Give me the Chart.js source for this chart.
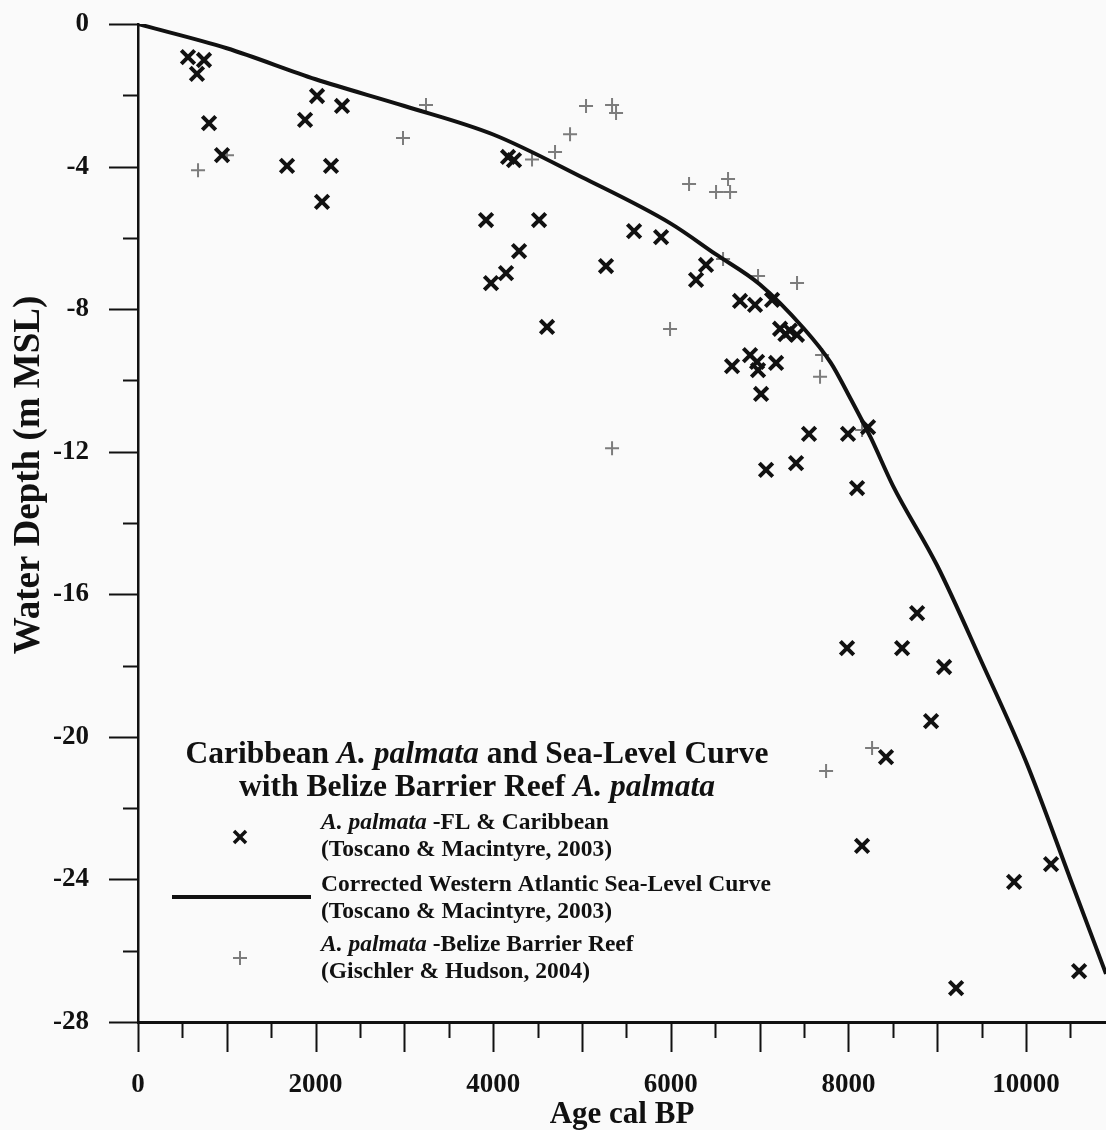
<!DOCTYPE html>
<html>
<head>
<meta charset="utf-8">
<title>Caribbean A. palmata and Sea-Level Curve</title>
<script src="https://cdn.jsdelivr.net/npm/chart.js@4.4.1/dist/chart.umd.min.js"></script>
<style>
  html, body { margin: 0; padding: 0; background: #fafafa; overflow: hidden; }
  #wrap { width: 1106px; height: 1130px; position: relative; }
  #myChart { display: block; }
</style>
</head>
<body>
<div id="wrap"><canvas id="myChart"></canvas></div>
<script>
// A. palmata - FL & Caribbean (Toscano & Macintyre, 2003)
const caribbeanAge = [563, 743, 664, 800, 946, 1678, 2016, 2297, 1881, 2173, 2072,
    4167, 4234, 3919, 4516, 4291, 4144, 3975, 4606,
    5586, 5890, 5270, 6396, 6284, 6779, 6948, 7140,
    7230, 7290, 7340, 7420,
    6689, 6892, 6971, 6982, 7185, 7016,
    7556, 7995, 8221, 7410, 7072, 8097,
    8773, 7984, 8604, 9077, 8930, 8423,
    8153, 9865, 10281, 9212, 10597];
const caribbeanDepth = [-0.93, -1.01, -1.40, -2.78, -3.68, -3.98, -2.02, -2.30, -2.69, -3.98, -4.99,
    -3.73, -3.82, -5.50, -5.50, -6.37, -6.99, -7.27, -8.50,
    -5.81, -5.98, -6.79, -6.76, -7.18, -7.77, -7.88, -7.74,
    -8.55, -8.70, -8.60, -8.72,
    -9.60, -9.29, -9.48, -9.71, -9.51, -10.38,
    -11.50, -11.50, -11.31, -12.32, -12.51, -13.02,
    -16.53, -17.51, -17.51, -18.04, -19.56, -20.57,
    -23.06, -24.07, -23.57, -27.05, -26.57];

// A. palmata - Belize Barrier Reef (Gischler & Hudson, 2004)
const belizeAge = [676, 1002, 2984, 3243, 4437, 4696, 4865, 5045, 5338, 5383,
    6205, 6509, 6644, 6667, 5991, 6588, 6982, 7421, 7703, 7680,
    8153, 5338, 8266, 7748];
const belizeDepth = [-4.10, -3.68, -3.20, -2.27, -3.80, -3.59, -3.09, -2.30, -2.27, -2.50,
    -4.49, -4.71, -4.35, -4.71, -8.56, -6.59, -7.07, -7.27, -9.29, -9.90,
    -11.39, -11.90, -20.31, -20.96];

// Corrected Western Atlantic sea-level curve (Toscano & Macintyre, 2003)
const curveAge = [0, 1000, 2000, 3000, 4000, 5000, 6000, 6500, 7000, 7500, 7800,
    8000, 8250, 8500, 9000, 9500, 10000, 10500, 10900];
const curveDepth = [0, -0.68, -1.55, -2.3, -3.1, -4.3, -5.6, -6.45, -7.3, -8.55, -9.5,
    -10.4, -11.6, -12.95, -15.2, -17.9, -20.7, -24.0, -26.65];

// tick positions, and the ones that get a label
const ageTicks = [0, 500, 1000, 1500, 2000, 2500, 3000, 3500, 4000, 4500, 5000,
    5500, 6000, 6500, 7000, 7500, 8000, 8500, 9000, 9500, 10000, 10500];
const ageLabels = [0, 2000, 4000, 6000, 8000, 10000];
const depthTicks = [0, -2, -4, -6, -8, -10, -12, -14, -16, -18, -20, -22, -24, -26, -28];
const depthLabels = [0, -4, -8, -12, -16, -20, -24, -28];

const SERIF = '"Liberation Serif", "Times New Roman", serif';
const INK = '#111111';
const GREY = '#7c7c7c';

const toPoints = (xs, ys) => xs.map((x, i) => ({ x: x, y: ys[i] }));

// writes a line made of plain and italic pieces
function drawRuns(ctx, runs, x, y, size, align) {
    const fontFor = it => (it ? 'italic ' : '') + 'bold ' + size + 'px ' + SERIF;
    let total = 0;
    runs.forEach(r => { ctx.font = fontFor(r[1]); total += ctx.measureText(r[0]).width; });
    let cx = align === 'center' ? x - total / 2 : x;
    ctx.textAlign = 'left';
    runs.forEach(r => {
        ctx.font = fontFor(r[1]);
        ctx.fillText(r[0], cx, y);
        cx += ctx.measureText(r[0]).width;
    });
}

// long ticks at whole thousands / every 4 m, short ones between
const tickMarks = {
    id: 'tickMarks',
    afterDraw(chart) {
        const ctx = chart.ctx;
        const xs = chart.scales.x, ys = chart.scales.y;
        ctx.save();
        ctx.strokeStyle = INK;
        ctx.lineWidth = 2;
        xs.ticks.forEach(t => {
            const px = Math.round(xs.getPixelForValue(t.value)) + 0.5;
            const len = t.value % 1000 === 0 ? 30 : 16;
            ctx.beginPath();
            ctx.moveTo(px, xs.top);
            ctx.lineTo(px, xs.top + len);
            ctx.stroke();
        });
        ys.ticks.forEach(t => {
            const py = Math.round(ys.getPixelForValue(t.value)) + 0.5;
            const len = t.value % 4 === 0 ? 29 : 15;
            ctx.beginPath();
            ctx.moveTo(ys.right, py);
            ctx.lineTo(ys.right - len, py);
            ctx.stroke();
        });

        // y title sits a bit above the middle of the axis
        ctx.fillStyle = INK;
        ctx.font = 'bold 37px ' + SERIF;
        ctx.textAlign = 'center';
        ctx.textBaseline = 'middle';
        ctx.translate(29, 475);
        ctx.rotate(-Math.PI / 2);
        ctx.fillText('Water Depth (m MSL)', 0, 0);
        ctx.restore();
    }
};

// legend block in the lower left of the plot
const legendBox = {
    id: 'legendBox',
    afterDatasetsDraw(chart) {
        const ctx = chart.ctx;
        ctx.save();
        ctx.fillStyle = INK;
        ctx.textBaseline = 'middle';

        drawRuns(ctx, [['Caribbean ', false], ['A. palmata', true], [' and Sea-Level Curve', false]], 477, 755, 31.5, 'center');
        drawRuns(ctx, [['with Belize Barrier Reef ', false], ['A. palmata', true]], 477, 788, 31.5, 'center');

        drawRuns(ctx, [['A. palmata', true], [' -FL & Caribbean', false]], 321, 823, 23.5);
        drawRuns(ctx, [['(Toscano & Macintyre, 2003)', false]], 321, 850, 23.5);
        drawRuns(ctx, [['Corrected Western Atlantic Sea-Level Curve', false]], 321, 885, 23.5);
        drawRuns(ctx, [['(Toscano & Macintyre, 2003)', false]], 321, 912, 23.5);
        drawRuns(ctx, [['A. palmata', true], [' -Belize Barrier Reef', false]], 321, 945, 23.5);
        drawRuns(ctx, [['(Gischler & Hudson, 2004)', false]], 321, 972, 23.5);

        ctx.strokeStyle = INK;
        ctx.lineWidth = 3.5;
        Chart.helpers.drawPoint(ctx, { pointStyle: 'crossRot', radius: 8.5, rotation: 0, borderWidth: 3.5 }, 240, 837);

        ctx.lineWidth = 4;
        ctx.beginPath();
        ctx.moveTo(172, 897);
        ctx.lineTo(311, 897);
        ctx.stroke();

        ctx.strokeStyle = GREY;
        ctx.lineWidth = 2;
        Chart.helpers.drawPoint(ctx, { pointStyle: 'cross', radius: 7, rotation: 0, borderWidth: 2 }, 240, 958);
        ctx.restore();
    }
};

const ctx = document.getElementById('myChart').getContext('2d');
new Chart(ctx, {
    type: 'scatter',
    data: {
        datasets: [
            {
                label: 'Corrected Western Atlantic Sea-Level Curve',
                data: toPoints(curveAge, curveDepth),
                showLine: true,
                borderColor: INK,
                borderWidth: 4,
                pointRadius: 0,
                cubicInterpolationMode: 'monotone',
                order: 0
            },
            {
                label: 'A. palmata -FL & Caribbean',
                data: toPoints(caribbeanAge, caribbeanDepth),
                pointStyle: 'crossRot',
                pointRadius: 9.5,
                borderColor: INK,
                pointBorderWidth: 4,
                order: 1
            },
            {
                label: 'A. palmata -Belize Barrier Reef',
                data: toPoints(belizeAge, belizeDepth),
                pointStyle: 'cross',
                pointRadius: 7,
                borderColor: GREY,
                pointBorderWidth: 2,
                order: 2
            }
        ]
    },
    options: {
        responsive: true,
        maintainAspectRatio: false,
        animation: false,
        layout: { autoPadding: false, padding: { top: 24, right: 0, left: 0, bottom: 0 } },
        plugins: {
            legend: { display: false },
            tooltip: { enabled: false }
        },
        scales: {
            x: {
                type: 'linear',
                min: 0,
                max: 10900,
                afterBuildTicks: s => { s.ticks = ageTicks.map(v => ({ value: v })); },
                afterFit: s => {
                    s.height = 108;
                    s.paddingLeft = 0;
                    s.paddingRight = 0;
                },
                grid: { display: false },
                border: { display: true, color: INK, width: 3 },
                ticks: {
                    autoSkip: false,
                    maxRotation: 0,
                    padding: 39,
                    color: INK,
                    font: { family: SERIF, size: 27, weight: 'bold' },
                    callback: v => ageLabels.includes(v) ? String(v) : ''
                },
                title: {
                    display: true,
                    text: 'Age cal BP',
                    color: INK,
                    font: { family: SERIF, size: 31, weight: 'bold', lineHeight: 1 },
                    padding: { top: 0, bottom: 0 }
                }
            },
            y: {
                type: 'linear',
                min: -28,
                max: 0,
                afterBuildTicks: s => { s.ticks = depthTicks.map(v => ({ value: v })); },
                afterFit: s => {
                    s.width = 138;
                    s.paddingTop = 0;
                    s.paddingBottom = 0;
                },
                grid: { display: false },
                border: { display: true, color: INK, width: 2.5 },
                ticks: {
                    autoSkip: false,
                    padding: 41,
                    color: INK,
                    font: { family: SERIF, size: 27, weight: 'bold' },
                    callback: v => depthLabels.includes(v) ? String(v) : ''
                }
            }
        }
    },
    plugins: [tickMarks, legendBox]
});
</script>
</body>
</html>
